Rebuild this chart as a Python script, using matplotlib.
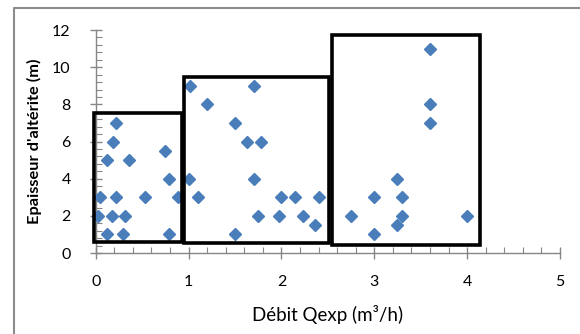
import matplotlib
matplotlib.use('Agg')
import matplotlib.pyplot as plt
from matplotlib.patches import Rectangle
from matplotlib.lines import Line2D
from matplotlib.ticker import MultipleLocator

# Data
debit = [0.05, 0.03, 0.12, 0.12, 0.22, 0.19, 0.22, 0.18, 0.32, 0.29,
         0.36, 0.53, 0.75, 0.79, 0.79, 0.89,
         1.0, 1.02, 1.1, 1.2, 1.5, 1.5, 1.63, 1.78, 1.7, 1.7,
         1.75, 1.97, 2.0, 2.15, 2.23, 2.36, 2.4,
         3.6, 3.6, 3.6, 3.25, 3.3, 3.3, 3.25, 3.0, 3.0, 2.75, 4.0]
epaisseur = [3, 2, 1, 5, 7, 6, 3, 2, 2, 1,
             5, 3, 5.5, 4, 1, 3,
             4, 9, 3, 8, 7, 1, 6, 6, 9, 4,
             2, 2, 3, 3, 2, 1.5, 3,
             11, 8, 7, 4, 3, 2, 1.5, 3, 1, 2, 2]

# class boxes (x0, x1, y0, y1)
boxes = [(-0.015, 0.93, 0.61, 7.54),
         (0.95, 2.51, 0.52, 9.45),
         (2.54, 4.14, 0.43, 11.76)]

plt.rcParams['font.family'] = ['Lato', 'DejaVu Sans']

fig = plt.figure(figsize=(5.8, 3.34), dpi=100)
ax = fig.add_axes([0.165, 0.2425, 0.8005, 0.6675])

ax.plot(debit, epaisseur, linestyle='none', marker='D', markersize=6.3,
        color='#4a7ebb', markeredgecolor='#4a7ebb', zorder=3, clip_on=False)

for x0, x1, y0, y1 in boxes:
    ax.add_patch(Rectangle((x0, y0), x1 - x0, y1 - y0, fill=False,
                           edgecolor='black', linewidth=2.6, zorder=4,
                           clip_on=False))

ax.set_xlim(0, 5)
ax.set_ylim(0, 12)
ax.xaxis.set_major_locator(MultipleLocator(1))
ax.xaxis.set_minor_locator(MultipleLocator(0.2))
ax.yaxis.set_major_locator(MultipleLocator(2))
ax.yaxis.set_minor_locator(MultipleLocator(0.4))

for s in ['top', 'right']:
    ax.spines[s].set_visible(False)
for s in ['left', 'bottom']:
    ax.spines[s].set_color('#868686')
    ax.spines[s].set_linewidth(1.0)

ax.tick_params(which='major', direction='inout', length=8, width=1.0,
               color='#868686', labelsize=11.5)
ax.tick_params(which='minor', direction='in', length=4, width=0.8,
               color='#868686')
ax.tick_params(axis='y', which='major', pad=14)
ax.tick_params(axis='x', which='major', pad=12)

ax.set_xlabel('Débit Qexp (m³/h)', fontsize=13.5, labelpad=11)
ax.set_ylabel("Epaisseur d'altérite (m)", fontsize=11.8, fontweight='bold',
              labelpad=7)

# outer chart border (cropped on right and bottom)
fig.add_artist(Line2D([13.5 / 580, 13.5 / 580, 1.0],
                      [0.0, 1 - 7.5 / 334, 1 - 7.5 / 334],
                      transform=fig.transFigure, color='#8c8c8c', linewidth=1.5))

fig.savefig('out.png', dpi=100)
